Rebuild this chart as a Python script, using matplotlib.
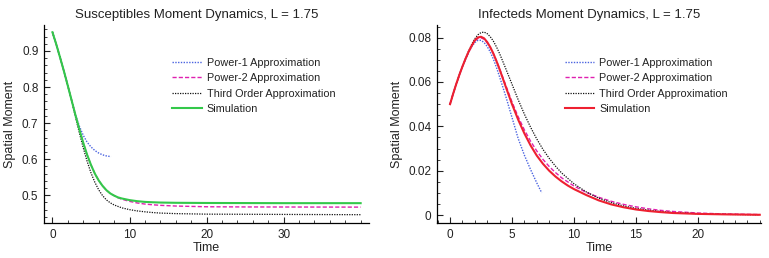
import matplotlib
matplotlib.use("Agg")
import matplotlib.pyplot as plt
from matplotlib.ticker import MultipleLocator

plt.rcParams.update({
    "font.family": ["Liberation Sans", "DejaVu Sans"],
    "font.size": 8,
    "text.color": "#222222",
    "axes.labelcolor": "#222222",
    "xtick.color": "#222222",
    "ytick.color": "#222222",
})

LABELS = ["Power-1 Approximation", "Power-2 Approximation",
          "Third Order Approximation", "Simulation"]

# ---- Susceptibles (left panel) ----
s_sim_t = [0, 0.5, 1, 1.5, 2, 2.5, 3, 3.5, 4, 4.5, 5, 5.5, 6, 6.5, 7, 7.5,
           8, 8.5, 9, 10, 11, 12, 13, 14, 16, 20, 30, 40]
s_sim_v = [0.952, 0.918, 0.881, 0.843, 0.803, 0.762, 0.721, 0.682, 0.645,
           0.612, 0.584, 0.560, 0.541, 0.526, 0.514, 0.505, 0.499, 0.494,
           0.491, 0.4865, 0.4835, 0.4815, 0.4805, 0.4797, 0.479, 0.4785,
           0.478, 0.478]

s_p1_t = [0, 0.5, 1, 1.5, 2, 2.5, 3, 3.5, 4, 4.5, 5, 5.5, 6, 6.5, 7, 7.6]
s_p1_v = [0.952, 0.918, 0.881, 0.843, 0.803, 0.762, 0.722, 0.691, 0.666,
          0.647, 0.634, 0.624, 0.617, 0.612, 0.609, 0.607]

s_p2_t = [0, 0.5, 1, 1.5, 2, 2.5, 3, 3.5, 4, 4.5, 5, 5.5, 6, 6.5, 7, 7.5,
          8, 8.5, 9, 10, 11, 12, 13, 14, 16, 20, 25, 40]
s_p2_v = [0.952, 0.918, 0.881, 0.843, 0.803, 0.762, 0.721, 0.682, 0.645,
          0.612, 0.584, 0.560, 0.541, 0.526, 0.514, 0.505, 0.499, 0.493,
          0.489, 0.483, 0.4785, 0.4755, 0.4735, 0.472, 0.470, 0.468,
          0.4675, 0.467]

s_p3_t = [0, 0.5, 1, 1.5, 2, 2.5, 3, 3.5, 4, 4.5, 5, 5.5, 6, 6.5, 7, 7.5,
          8, 8.5, 9, 10, 11, 12, 13, 14, 16, 20, 40]
s_p3_v = [0.952, 0.918, 0.881, 0.843, 0.803, 0.762, 0.716, 0.672, 0.631,
          0.594, 0.562, 0.536, 0.515, 0.499, 0.487, 0.479, 0.473, 0.469,
          0.465, 0.460, 0.4565, 0.454, 0.452, 0.4505, 0.449, 0.4475, 0.446]

# ---- Infecteds (right panel) ----
i_sim_t = [0, 0.25, 0.5, 0.75, 1, 1.25, 1.5, 1.75, 2, 2.25, 2.5, 2.75, 3,
           3.25, 3.5, 3.75, 4, 4.5, 5, 5.5, 6, 6.5, 7, 7.5, 8, 8.5, 9, 9.5,
           10, 11, 12, 13, 14, 15, 16, 17, 18, 20, 22, 25]
i_sim_v = [0.0500, 0.0547, 0.0591, 0.0632, 0.0670, 0.0705, 0.0737, 0.0764,
           0.0788, 0.0801, 0.0804, 0.0797, 0.0780, 0.0757, 0.0728, 0.0694,
           0.0657, 0.0578, 0.0500, 0.0430, 0.0368, 0.0314, 0.0268, 0.0231,
           0.0200, 0.0174, 0.0152, 0.0133, 0.0117, 0.0090, 0.0066, 0.0048,
           0.0035, 0.0025, 0.0018, 0.0013, 0.0009, 0.0005, 0.0003, 0.0001]

i_p1_t = [0, 0.25, 0.5, 0.75, 1, 1.25, 1.5, 1.75, 2, 2.25, 2.5, 2.75, 3,
          3.25, 3.5, 3.75, 4, 4.5, 5, 5.5, 6, 6.5, 7, 7.4]
i_p1_v = [0.0500, 0.0547, 0.0591, 0.0632, 0.0669, 0.0703, 0.0733, 0.0759,
          0.0778, 0.0788, 0.0788, 0.0778, 0.0760, 0.0735, 0.0703, 0.0665,
          0.0623, 0.0535, 0.0440, 0.0345, 0.0270, 0.0205, 0.0145, 0.0100]

i_p2_t = [0, 0.25, 0.5, 0.75, 1, 1.25, 1.5, 1.75, 2, 2.25, 2.5, 2.75, 3,
          3.25, 3.5, 3.75, 4, 4.5, 5, 5.5, 6, 6.5, 7, 7.5, 8, 8.5, 9, 10,
          11, 12, 13, 14, 15, 16, 17, 18, 20, 22, 25]
i_p2_v = [0.0500, 0.0547, 0.0591, 0.0632, 0.0670, 0.0704, 0.0735, 0.0762,
          0.0785, 0.0797, 0.0799, 0.0793, 0.0777, 0.0755, 0.0727, 0.0695,
          0.0660, 0.0585, 0.0510, 0.0443, 0.0384, 0.0333, 0.0289, 0.0251,
          0.0219, 0.0192, 0.0168, 0.0131, 0.0102, 0.0080, 0.0062, 0.0048,
          0.0037, 0.0028, 0.0021, 0.0016, 0.0009, 0.0005, 0.0002]

i_p3_t = [0, 0.25, 0.5, 0.75, 1, 1.25, 1.5, 1.75, 2, 2.25, 2.5, 2.75, 3,
          3.25, 3.5, 3.75, 4, 4.5, 5, 5.5, 6, 6.5, 7, 7.5, 8, 8.5, 9, 10,
          11, 12, 13, 14, 15, 16, 17, 18, 20, 22, 25]
i_p3_v = [0.0500, 0.0547, 0.0591, 0.0632, 0.0670, 0.0706, 0.0740, 0.0770,
          0.0795, 0.0813, 0.0823, 0.0825, 0.0818, 0.0804, 0.0784, 0.0758,
          0.0728, 0.0660, 0.0590, 0.0520, 0.0455, 0.0396, 0.0343, 0.0296,
          0.0256, 0.0221, 0.0190, 0.0141, 0.0104, 0.0076, 0.0056, 0.0041,
          0.0030, 0.0022, 0.0016, 0.0011, 0.0006, 0.0003, 0.0001]

BLUE = "#4a63e0"
PINK = "#e020b0"
BLACK = "#111111"
GREEN = "#33c84a"
RED = "#ee2030"


def style_axes(ax):
    for side in ["top", "right"]:
        ax.spines[side].set_visible(False)
    for side in ["left", "bottom"]:
        ax.spines[side].set_linewidth(0.9)
    ax.tick_params(which="major", direction="in", length=4.5, width=0.8,
                   labelsize=8.5, pad=4)
    ax.tick_params(which="minor", direction="in", length=2.5, width=0.6)


def draw_panel(ax, series, sim_color, title):
    p1, p2, p3, sim = series
    ax.plot(*p1, color=BLUE, lw=1.0, ls=(0, (1, 1)), label=LABELS[0])
    ax.plot(*p2, color=PINK, lw=1.0, ls=(0, (3, 1.5)), label=LABELS[1])
    ax.plot(*p3, color=BLACK, lw=0.9, ls=(0, (1, 1)), label=LABELS[2])
    ax.plot(*sim, color=sim_color, lw=1.5, label=LABELS[3])
    ax.set_title(title, fontsize=9.5, pad=5, x=0.47)
    ax.set_xlabel("Time", fontsize=9, labelpad=1)
    ax.set_ylabel("Spatial Moment", fontsize=9, labelpad=4)
    ax.legend(loc="upper left", bbox_to_anchor=(0.395, 0.835), frameon=False,
              fontsize=7.8, handlelength=2.7, handletextpad=0.45,
              labelspacing=0.5, borderpad=0, borderaxespad=0)
    style_axes(ax)


fig = plt.figure(figsize=(7.69, 2.58), dpi=100)

# left panel
axL = fig.add_axes([0.0572, 0.1357, 0.4228, 0.7673])
draw_panel(axL, [(s_p1_t, s_p1_v), (s_p2_t, s_p2_v), (s_p3_t, s_p3_v),
                 (s_sim_t, s_sim_v)], GREEN,
           "Susceptibles Moment Dynamics, L = 1.75")
axL.set_xlim(-1.1, 41.1)
axL.set_ylim(0.423, 0.972)
axL.set_xticks([0, 10, 20, 30], ["0", "10", "20", "30"])
axL.set_yticks([0.5, 0.6, 0.7, 0.8, 0.9], ["0.5", "0.6", "0.7", "0.8", "0.9"])
axL.xaxis.set_minor_locator(MultipleLocator(2))
axL.yaxis.set_minor_locator(MultipleLocator(0.02))

# right panel
axR = fig.add_axes([0.568, 0.1357, 0.4216, 0.7673])
draw_panel(axR, [(i_p1_t, i_p1_v), (i_p2_t, i_p2_v), (i_p3_t, i_p3_v),
                 (i_sim_t, i_sim_v)], RED,
           "Infecteds Moment Dynamics, L = 1.75")
axR.set_xlim(-1.07, 25.1)
axR.set_ylim(-0.0036, 0.0857)
axR.set_xticks([0, 5, 10, 15, 20], ["0", "5", "10", "15", "20"])
axR.set_yticks([0, 0.02, 0.04, 0.06, 0.08], ["0", "0.02", "0.04", "0.06", "0.08"])
axR.xaxis.set_minor_locator(MultipleLocator(1))
axR.yaxis.set_minor_locator(MultipleLocator(0.005))

fig.savefig("out.png", dpi=100)
